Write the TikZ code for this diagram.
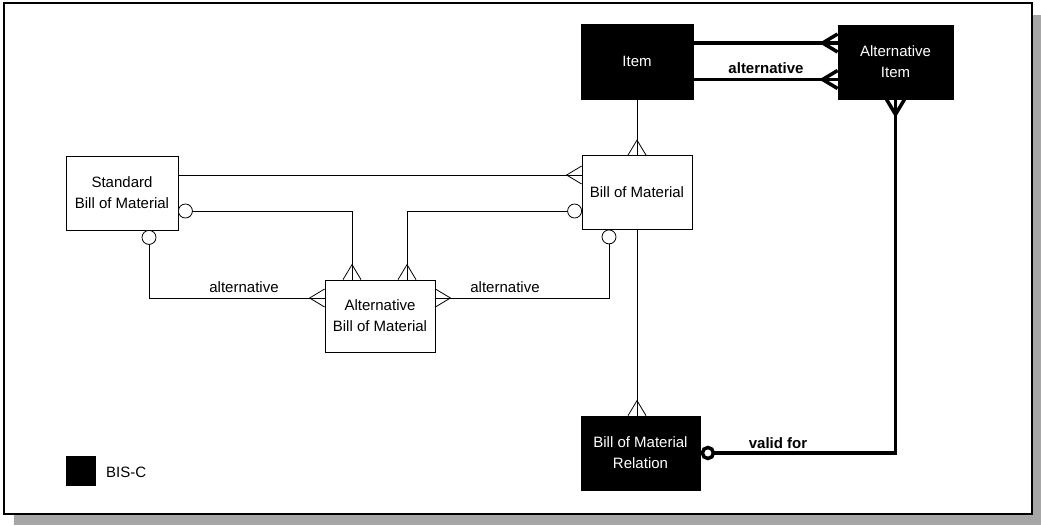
\documentclass[tikz,border=0pt]{standalone}
\usepackage{fontspec}
\setmainfont{Liberation Sans}
\begin{document}
\begin{tikzpicture}[x=1pt,y=-1pt,
  entity/.style={draw, line width=0.8pt, inner sep=0pt, align=center,
    font=\fontsize{15}{21}\selectfont, minimum width=112pt, minimum height=74pt},
  bisc/.style={entity, fill=black, text=white},
  rel/.style={line width=0.8pt},
  relbold/.style={line width=3.5pt},
  lbl/.style={font=\fontsize{15}{18}\selectfont, inner sep=1pt},
  lblbold/.style={font=\fontsize{15}{18}\selectfont\bfseries, inner sep=1pt},
  crowfoot/.pic={\draw (0,-9) -- (15,0) -- (0,9);},
  ringend/.pic={\draw[fill=white] (7,0) circle[radius=7];},
  ringbold/.pic={\draw[fill=white] (7.5,0) circle[radius=5.5];},
]
\useasboundingbox (0,0) rectangle (1041,525);

% sheet with drop shadow
\fill[gray!70] (14,15) rectangle (1041,525);
\draw[fill=white, line width=1.6pt] (4,3) rectangle (1032,514);

% entities
\node[bisc, minimum height=75pt] (item) at (637,61.5) {Item};
\node[bisc, minimum width=115pt] (altitem) at (895.5,62) {Alternative\\Item};
\node[entity] (sbom) at (122,193) {Standard\\Bill of Material};
\node[entity, minimum width=110pt] (bom) at (637,192.5) {Bill of Material};
\node[entity, minimum width=110pt, minimum height=72pt] (altbom) at (380,316) {Alternative\\Bill of Material};
\node[bisc, minimum width=119pt] (bomrel) at (640.5,453) {Bill of Material\\Relation};

% legend
\node[fill=black, minimum size=30pt, inner sep=0pt] (legendbox) at (81,471) {};
\node[lbl, anchor=west] (legendtxt) at (105,472) {BIS-C};

% attachment points
\coordinate (sTop) at ([yshift=18pt]sbom.east);
\coordinate (sMid) at ([yshift=-18pt]sbom.east);
\coordinate (sBot) at ([xshift=27pt]sbom.south);
\coordinate (bMid) at ([yshift=-18.5pt]bom.west);
\coordinate (bBot) at ([xshift=-28pt]bom.south);
\coordinate (aTopL) at ([xshift=-28pt]altbom.north);
\coordinate (aTopR) at ([xshift=27pt]altbom.north);
\coordinate (aL) at ([yshift=18pt]altbom.west);
\coordinate (aR) at ([yshift=18pt]altbom.east);
\coordinate (iTop) at ([yshift=18.5pt]item.east);
\coordinate (iBot) at ([yshift=-18pt]item.east);

% relationships
\draw[rel] (item.south) -- (bom.north);
\draw[rel] (sTop) -- (sTop -| bom.west);
\draw[rel] (sMid) -| (aTopL);
\draw[rel] (bMid) -| (aTopR);
\draw[rel] (sBot) |- (aL);
\draw[rel] (bBot) |- (aR);
\draw[rel] (bom.south) -- (bom.south |- bomrel.north);
\draw[relbold] (iTop) -- (iTop -| altitem.west);
\draw[relbold] (iBot) -- (iBot -| altitem.west);
\draw[relbold] (bomrel.east) -| (altitem.south);

% cardinality marks
\pic[rel, rotate=90] at (bom.north) {crowfoot};
\pic[rel, rotate=180] at (sTop -| bom.west) {crowfoot};
\pic[rel, rotate=90] at (aTopL) {crowfoot};
\pic[rel, rotate=90] at (aTopR) {crowfoot};
\pic[rel, rotate=180] at (aL) {crowfoot};
\pic[rel] at (aR) {crowfoot};
\pic[rel, rotate=90] at (bom.south |- bomrel.north) {crowfoot};
\pic[relbold, rotate=180] at (iTop -| altitem.west) {crowfoot};
\pic[relbold, rotate=180] at (iBot -| altitem.west) {crowfoot};
\pic[relbold, rotate=-90] at (altitem.south) {crowfoot};
\pic[rel] at (sMid) {ringend};
\pic[rel, rotate=-90] at (sBot) {ringend};
\pic[rel, rotate=180] at (bMid) {ringend};
\pic[rel, rotate=-90] at (bBot) {ringend};
\pic[relbold] at (bomrel.east) {ringbold};

% relationship labels
\node[lbl] (lblA) at (244,287) {alternative};
\node[lbl] (lblB) at (505,287) {alternative};
\node[lblbold] (lblC) at (766,68) {alternative};
\node[lblbold] (lblD) at (778,443) {valid for};
\end{tikzpicture}
\end{document}
